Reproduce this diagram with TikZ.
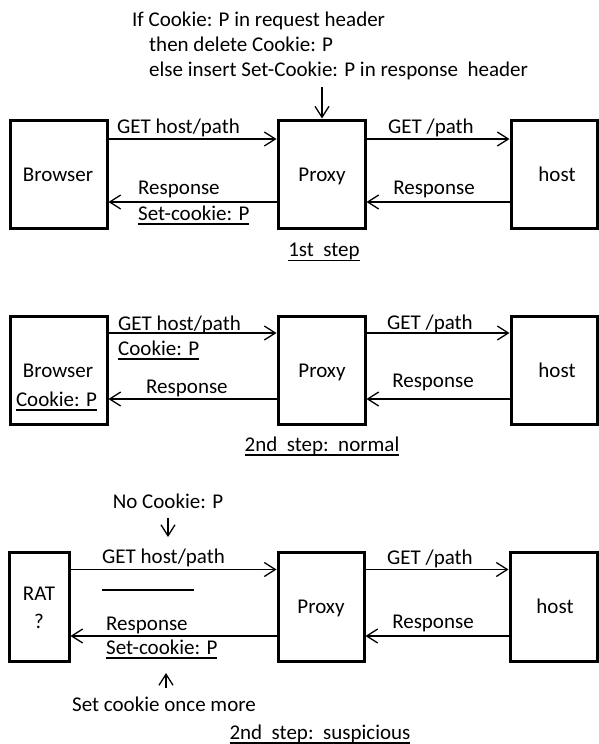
\documentclass[tikz,border=0pt]{standalone}
\usepackage{fontspec}
\setmainfont{Carlito}
\usetikzlibrary{arrows.meta}
% underlined text with a rule at a fixed depth below the baseline
\newcommand{\ulin}[1]{\setbox0\hbox{#1}\rlap{\rule[-4.8pt]{\wd0}{1.8pt}}\box0}
\begin{document}
\begin{tikzpicture}[x=1pt,y=-1pt,
  box/.style={draw, line width=3pt, rectangle, inner sep=0pt},
  flow/.style={line width=1.3pt, -{Straight Barb[length=11pt,width=14pt,line width=1.3pt]}},
  lbl/.style={inner sep=0pt, font=\fontsize{21}{25}\selectfont},
]
\useasboundingbox (0,0) rectangle (599,744);

% ---------- first step ----------
\node[box, minimum width=97pt, minimum height=108pt] (b1) at (58.5,174) {};
\node[box, minimum width=87pt, minimum height=108pt] (p1) at (321.5,174) {};
\node[box, minimum width=86.5pt, minimum height=108pt] (h1) at (554.25,174) {};
\node[lbl, anchor=base] (b1t) at (58,181) {Browser};
\node[lbl, anchor=base] (p1t) at (322,181) {Proxy};
\node[lbl, anchor=base] (h1t) at (557,181) {host};

\node[lbl, anchor=base west] (n1) at (132,26.7) {If Cookie: P in request header};
\node[lbl, anchor=base west] (n2) at (149,51.7) {then delete Cookie: P};
\node[lbl, anchor=base west] (n3) at (149,76.7) {else insert Set-Cookie: P in response\ \ header};
\coordinate (c1) at (322,87);
\draw[flow] (c1) -- (c1 |- p1.north);

\draw[flow] (b1.east |- 0,139) -- (p1.west |- 0,139);
\draw[flow] (p1.east |- 0,139) -- (h1.west |- 0,139);
\draw[flow] (p1.west |- 0,202) -- (b1.east |- 0,202);
\draw[flow] (h1.west |- 0,202) -- (p1.east |- 0,202);

\node[lbl, anchor=base west] (l11) at (117,133) {GET host/path};
\node[lbl, anchor=base] (l12) at (431,133) {GET /path};
\node[lbl, anchor=base west] (l13) at (138,194) {Response};
\node[lbl, anchor=base west] (l14) at (138,220) {\ulin{Set-cookie: P}};
\node[lbl, anchor=base] (l15) at (434,194) {Response};
\node[lbl, anchor=base] (s1) at (324,256.5) {\ulin{1st\ \ step}};

% ---------- second step: normal ----------
\node[box, minimum width=97pt, minimum height=108pt] (b2) at (58.5,370) {};
\node[box, minimum width=87pt, minimum height=108pt] (p2) at (321.5,370) {};
\node[box, minimum width=86.5pt, minimum height=108pt] (h2) at (554.25,370) {};
\node[lbl, anchor=base] (b2t) at (58,377) {Browser};
\node[lbl, anchor=base] (b2c) at (56.5,406) {\ulin{Cookie: P}};
\node[lbl, anchor=base] (p2t) at (322,377) {Proxy};
\node[lbl, anchor=base] (h2t) at (557,377) {host};

\draw[flow] (b2.east |- 0,333) -- (p2.west |- 0,333);
\draw[flow] (p2.east |- 0,333) -- (h2.west |- 0,333);
\draw[flow] (p2.west |- 0,399) -- (b2.east |- 0,399);
\draw[flow] (h2.west |- 0,399) -- (p2.east |- 0,399);

\node[lbl, anchor=base west] (l21) at (118,330) {GET host/path};
\node[lbl, anchor=base west] (l22) at (118,355) {\ulin{Cookie: P}};
\node[lbl, anchor=base] (l23) at (430,329) {GET /path};
\node[lbl, anchor=base west] (l24) at (146,393) {Response};
\node[lbl, anchor=base] (l25) at (433,387) {Response};
\node[lbl, anchor=base] (s2) at (322,451) {\ulin{2nd\ \ step:\ \ normal}};

% ---------- second step: suspicious ----------
\node[box, minimum width=60pt, minimum height=109pt] (r3) at (39,606.5) {};
\node[box, minimum width=86pt, minimum height=109pt] (p3) at (321,606.5) {};
\node[box, minimum width=87.5pt, minimum height=109pt] (h3) at (553.75,606.5) {};
\node[lbl, anchor=base] (r3t) at (39,600) {RAT};
\node[lbl, anchor=base] (r3q) at (39,628) {?};
\node[lbl, anchor=base] (p3t) at (321,613) {Proxy};
\node[lbl, anchor=base] (h3t) at (555,613) {host};

\node[lbl, anchor=base] (nc) at (168,508) {No Cookie: P};
\coordinate (c2a) at (168,518);
\coordinate (c2b) at (168,537);
\draw[flow] (c2a) -- (c2b);

\draw[flow] (r3.east |- 0,569.5) -- (p3.west |- 0,569.5);
\draw[flow] (p3.east |- 0,569.5) -- (h3.west |- 0,569.5);
\draw[flow] (p3.west |- 0,636) -- (r3.east |- 0,636);
\draw[flow] (h3.west |- 0,636) -- (p3.east |- 0,636);

\node[lbl, anchor=base west] (l31) at (102,563) {GET host/path};
\draw[line width=2.4pt] (102,590) -- (194,590);
\node[lbl, anchor=base] (l32) at (430,564) {GET /path};
\node[lbl, anchor=base west] (l33) at (106,630) {Response};
\node[lbl, anchor=base west] (l34) at (106,654) {\ulin{Set-cookie: P}};
\node[lbl, anchor=base] (l35) at (433,628) {Response};

\coordinate (c3a) at (166,688);
\coordinate (c3b) at (166,673);
\draw[flow] (c3a) -- (c3b);
\node[lbl, anchor=base] (sc) at (164,711) {Set cookie once more};
\node[lbl, anchor=base] (s3) at (320,739) {\ulin{2nd\ \ step:\ \ suspicious}};
\end{tikzpicture}
\end{document}
